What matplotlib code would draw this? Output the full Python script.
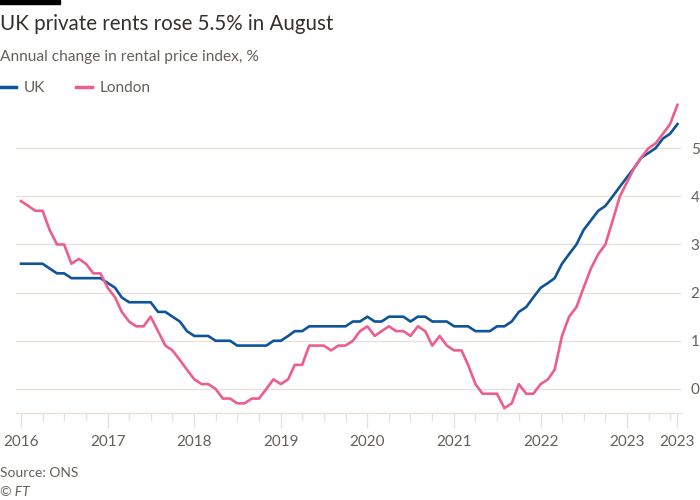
import numpy as np
import pandas as pd
import matplotlib
matplotlib.use("Agg")
import matplotlib.pyplot as plt
import matplotlib.dates as mdates
from matplotlib.lines import Line2D

# monthly annual % change, Jan 2016 - Aug 2023
uk = [2.6, 2.6, 2.6, 2.6, 2.5, 2.4, 2.4, 2.3, 2.3, 2.3, 2.3, 2.3,
      2.2, 2.1, 1.9, 1.8, 1.8, 1.8, 1.8, 1.6, 1.6, 1.5, 1.4, 1.2,
      1.1, 1.1, 1.1, 1.0, 1.0, 1.0, 0.9, 0.9, 0.9, 0.9, 0.9, 1.0,
      1.0, 1.1, 1.2, 1.2, 1.3, 1.3, 1.3, 1.3, 1.3, 1.3, 1.4, 1.4,
      1.5, 1.4, 1.4, 1.5, 1.5, 1.5, 1.4, 1.5, 1.5, 1.4, 1.4, 1.4,
      1.3, 1.3, 1.3, 1.2, 1.2, 1.2, 1.3, 1.3, 1.4, 1.6, 1.7, 1.9,
      2.1, 2.2, 2.3, 2.6, 2.8, 3.0, 3.3, 3.5, 3.7, 3.8, 4.0, 4.2,
      4.4, 4.6, 4.8, 4.9, 5.0, 5.2, 5.3, 5.5]
london = [3.9, 3.8, 3.7, 3.7, 3.3, 3.0, 3.0, 2.6, 2.7, 2.6, 2.4, 2.4,
          2.1, 1.9, 1.6, 1.4, 1.3, 1.3, 1.5, 1.2, 0.9, 0.8, 0.6, 0.4,
          0.2, 0.1, 0.1, 0.0, -0.2, -0.2, -0.3, -0.3, -0.2, -0.2, 0.0, 0.2,
          0.1, 0.2, 0.5, 0.5, 0.9, 0.9, 0.9, 0.8, 0.9, 0.9, 1.0, 1.2,
          1.3, 1.1, 1.2, 1.3, 1.2, 1.2, 1.1, 1.3, 1.2, 0.9, 1.1, 0.9,
          0.8, 0.8, 0.5, 0.1, -0.1, -0.1, -0.1, -0.4, -0.3, 0.1, -0.1, -0.1,
          0.1, 0.2, 0.4, 1.1, 1.5, 1.7, 2.1, 2.5, 2.8, 3.0, 3.5, 4.0,
          4.3, 4.6, 4.8, 5.0, 5.1, 5.3, 5.5, 5.9]
months = pd.date_range("2016-01-01", periods=len(uk), freq="MS")

yticks = [0, 1, 2, 3, 4, 5]
year_ticks = pd.to_datetime(["2016-01-01", "2017-01-01", "2018-01-01", "2019-01-01",
                             "2020-01-01", "2021-01-01", "2022-01-01", "2023-01-01",
                             "2023-08-01"])
year_labels = ["2016", "2017", "2018", "2019", "2020", "2021", "2022", "2023", "2023"]

BLUE = "#0f5499"
PINK = "#eb5e8d"
GRID = "#e9e2da"
GREY = "#66605c"
DARK = "#33302e"

plt.rcParams["font.family"] = ["Lato", "DejaVu Sans"]

fig = plt.figure(figsize=(7, 5), dpi=100)
fig.patch.set_facecolor("white")
ax = fig.add_axes([16 / 700, 87 / 500, 665 / 700, 313 / 500])

ax.plot(months, uk, color=BLUE, lw=1.9, label="UK", zorder=3)
ax.plot(months, london, color=PINK, lw=1.9, label="London", zorder=3)

ax.set_ylim(-0.5, 6)
ax.set_xlim(pd.Timestamp("2015-12-11"), pd.Timestamp("2023-08-16"))
ax.set_yticks(yticks)
ax.yaxis.tick_right()
ax.tick_params(axis="y", length=0, pad=7, labelsize=11, labelcolor=GREY)
ax.grid(axis="y", color=GRID, lw=1)
ax.set_axisbelow(True)

ax.set_xticks(year_ticks)
ax.set_xticklabels(year_labels)
quarters = [d for d in pd.date_range("2016-01-01", "2023-08-01", freq="QS") if d.month != 1]
ax.set_xticks(quarters, minor=True)
ax.tick_params(axis="x", which="major", length=11, width=1, color=GRID,
               labelsize=11, labelcolor=GREY, pad=5)
ax.tick_params(axis="x", which="minor", length=6, width=1, color=GRID)

for s in ["top", "left", "right"]:
    ax.spines[s].set_visible(False)
ax.spines["bottom"].set_color(GRID)
ax.spines["bottom"].set_linewidth(1)

# header
fig.add_artist(plt.Rectangle((0, 1 - 4 / 500), 60 / 700, 4 / 500, color="black",
                             transform=fig.transFigure))
fig.text(0, 1 - 24 / 500, "UK private rents rose 5.5% in August", fontsize=14.8,
         color=DARK, va="center", ha="left")
fig.text(0, 1 - 57 / 500, "Annual change in rental price index, %", fontsize=11.15,
         color=GREY, va="center", ha="left")

handles = [Line2D([], [], color=BLUE, lw=2.5), Line2D([], [], color=PINK, lw=2.5)]
fig.legend(handles, ["UK", "London"], loc="center left",
           bbox_to_anchor=(0, 1 - 88 / 500), ncol=2, frameon=False,
           fontsize=11, labelcolor=GREY, handlelength=1.05, handletextpad=0.5,
           columnspacing=2.0, borderaxespad=0, borderpad=0)

fig.text(0, 1 - 473 / 500, "Source: ONS", fontsize=10, color=GREY, va="center", ha="left")
fig.text(0, 1 - 492 / 500, "© FT", fontsize=10, color=GREY, va="center", ha="left",
         style="italic")

fig.savefig("out.png", dpi=100)
